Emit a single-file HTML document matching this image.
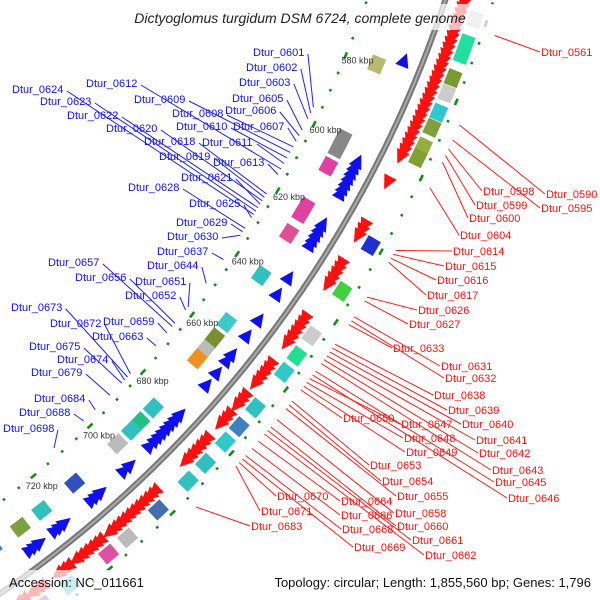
<!DOCTYPE html>
<html><head><meta charset="utf-8"><style>
body{margin:0;background:#fff;overflow:hidden;width:600px;height:600px}
svg{display:block}
text{font-family:"Liberation Sans","DejaVu Sans",sans-serif}
</style></head><body>
<svg id="chart" width="600" height="600" viewBox="0 0 600 600" xmlns="http://www.w3.org/2000/svg" style="overflow:hidden">
<g id="marks"></g>
<g id="labels"></g>
<rect x="0" y="4" width="600" height="26" fill="#fff" opacity="0.7"/>
<rect x="0" y="570" width="600" height="30" fill="#fff" opacity="0.7"/>
<text x="300" y="23" text-anchor="middle" font-size="14" font-style="italic" fill="#222">Dictyoglomus turgidum DSM 6724, complete genome</text>
<text x="9" y="587" font-size="13" fill="#111">Accession: NC_011661</text>
<text x="591" y="587" text-anchor="end" font-size="13" fill="#111">Topology: circular; Length: 1,855,560 bp; Genes: 1,796</text>
</svg>
<script>
const tickKbp=[580,600,620,640,660,680,700,720];
const redArrowKbp=[556,557.5,559,560.5,562,563.5,565,566.5,568,569.5,571,572.5,574,575.5,577,578.5,580,581.5,583,584.5,586,587.5,589,590.5,592,593.5,595,596.5,598,605,617,618.5,620,628,629.5,631,632.5,634,644,645.5,647,648.5,650,651.5,658,659.5,661,662.5,664,668,669.5,671,674,675.5,677,682,683.5,685,686.5,688,689.5,700,701.5,703,704.5,706,707.5,709,710.5,712,713.5,715,718,719.5,721,722.5,724,725.5,728,729.5,731,736,737.5,739,741.5,743];
const blueArrowKbp=[575,603,604.5,606,607.5,609,610.5,612,621,622.5,624,625.5,627,637,642,650,655,661,663,667,671,681,682.5,684,685.5,687,688.5,690,692,699,701,709,710.5,712,721,722.5,724,729,730.5,732];
const blueBoxKbp=[579,600,603,608,620,622,628,641,656,661,665,668,685,690,693,698,713,724,731,740];
const blueBoxCol=["#b8b870","#888","#888","#e040a0","#e040a0","#e040a0","#e05090","#30c0c0","#40c8c8","#7a9030","#bbb","#f09020","#30c0c0","#20c080","#30c0c0","#bbb","#3050c0","#30c0c0","#80a040","#4080c0"];
const redBoxKbp=[560,566,569,575,579,584,588,593,596,620,633,646,652,657,668,674,679,686,692,702,712,718,730,738];
const redBoxCol=["#ccc","#20e0a0","#20e0a0","#7a9a30","#ccc","#30c8d0","#80a040","#90b040","#80a030","#2030d0","#40d040","#ccc","#20e090","#30c8c8","#30c0c0","#4080c0","#30c8c8","#30c0c0","#30c0c0","#4070b0","#bbb","#e050a0","#50c0c0","#e040a0"];
const blueLabels=[["Dtur_0601",253,52],["Dtur_0602",246,67],["Dtur_0603",239,82],["Dtur_0605",232,98],["Dtur_0606",225,110],["Dtur_0607",233,126],["Dtur_0608",172,113],["Dtur_0609",134,99],["Dtur_0610",176,126],["Dtur_0611",202,142],["Dtur_0612",86,83],["Dtur_0613",213,162],["Dtur_0618",144,141],["Dtur_0619",159,156],["Dtur_0620",106,128],["Dtur_0621",181,177],["Dtur_0622",67,115],["Dtur_0623",40,101],["Dtur_0624",12,89],["Dtur_0625",189,203],["Dtur_0628",128,187],["Dtur_0629",176,222],["Dtur_0630",167,236],["Dtur_0637",157,251],["Dtur_0644",147,265],["Dtur_0651",135,281],["Dtur_0652",125,295],["Dtur_0656",75,277],["Dtur_0657",48,262],["Dtur_0659",103,321],["Dtur_0663",92,336],["Dtur_0672",50,323],["Dtur_0673",11,307],["Dtur_0674",57,359],["Dtur_0675",29,346],["Dtur_0679",31,372],["Dtur_0684",34,398],["Dtur_0688",19,412],["Dtur_0698",3,428]];
const redLabels=[["Dtur_0561",540,52],["Dtur_0590",545,194],["Dtur_0595",540,208],["Dtur_0598",482,191],["Dtur_0599",475,205],["Dtur_0600",468,218],["Dtur_0604",459,235],["Dtur_0614",452,251],["Dtur_0615",444,266],["Dtur_0616",436,280],["Dtur_0617",426,295],["Dtur_0626",417,310],["Dtur_0627",408,324],["Dtur_0633",392,348],["Dtur_0631",440,366],["Dtur_0632",444,378],["Dtur_0638",433,395],["Dtur_0639",447,410],["Dtur_0640",461,424],["Dtur_0641",475,440],["Dtur_0642",478,453],["Dtur_0643",491,470],["Dtur_0645",494,482],["Dtur_0646",507,498],["Dtur_0650",342,418],["Dtur_0647",400,424],["Dtur_0648",403,438],["Dtur_0649",405,452],["Dtur_0653",369,465],["Dtur_0654",381,481],["Dtur_0655",396,496],["Dtur_0658",394,513],["Dtur_0660",396,526],["Dtur_0661",411,540],["Dtur_0662",424,555],["Dtur_0664",340,501],["Dtur_0666",340,515],["Dtur_0668",341,529],["Dtur_0669",353,547],["Dtur_0670",276,496],["Dtur_0671",260,511],["Dtur_0683",250,526]];
const geneAnchorNum=[561,598,614,627,683,698];
const geneAnchorKbp=[562,591,618,632,695,711];

const CX=-660,CY=-365,NS="http://www.w3.org/2000/svg";
function ang(k){return (22.7+(k-580)*3.97/20)*Math.PI/180;}
function pt(k,r){const a=ang(k);return [CX+r*Math.cos(a),CY+r*Math.sin(a)];}
function geneKbp(n){for(let i=0;i<geneAnchorNum.length-1;i++){if(n<=geneAnchorNum[i+1]||i==geneAnchorNum.length-2){const t=(n-geneAnchorNum[i])/(geneAnchorNum[i+1]-geneAnchorNum[i]);return geneAnchorKbp[i]+t*(geneAnchorKbp[i+1]-geneAnchorKbp[i]);}}}
function mk(tag,attrs,parent){const e=document.createElementNS(NS,tag);for(const k in attrs)e.setAttribute(k,attrs[k]);parent.appendChild(e);return e;}
const M=document.getElementById('marks'),L=document.getElementById('labels');

const p0=pt(540,1164),p1=pt(760,1164);
const bd=`M${p0[0]},${p0[1]} A1164 1164 0 0 1 ${p1[0]},${p1[1]}`;
let bb=mk('path',{d:bd,fill:'none',stroke:'#777','stroke-width':6},M);


let bb2=mk('path',{d:bd,fill:'none',stroke:'#aaa','stroke-width':2},M);



for(let k=540;k<=760;k+=5){
  [1090,1210].forEach(r=>{
    const [x,y]=pt(k,r);const big=(k%20===0);
    const d=mk('rect',{x:x-(big?3.5:1.3),y:y-1.3,width:big?7:2.6,height:2.6,fill:'#1a8a1a',transform:`rotate(${ang(k)*180/Math.PI+90} ${x} ${y})`},M);
    
    
  });
}
tickKbp.forEach(k=>{
  const [x,y]=pt(k,1103);
  const t=mk('text',{x:x,y:y+3,'text-anchor':'middle','font-size':9,fill:'#333'},L);
  t.textContent=k+' kbp';
  
  
});
redArrowKbp.forEach(k=>{
  const p=mk('polygon',{},M);
  const a=ang(k)*180/Math.PI,[x,y]=pt(k,1182);
  p.setAttribute('points','8,-7 8,7 -6,0');
  p.setAttribute('fill','#ff1010');
  p.setAttribute('transform',`translate(${x} ${y}) rotate(${a-90})`);
  
  
});
blueArrowKbp.forEach(k=>{
  const p=mk('polygon',{},M);
  const a=ang(k)*180/Math.PI,[x,y]=pt(k,1146);
  p.setAttribute('points','-8,-7 -8,7 6,0');
  p.setAttribute('fill','#1010ee');
  p.setAttribute('transform',`translate(${x} ${y}) rotate(${a-90})`);
  
  
});
function box(k,r,c){
  const a=ang(k)*180/Math.PI,[x,y]=pt(k,r);
  return mk('rect',{x:-7,y:-8,width:14,height:16,fill:c,transform:`translate(${x} ${y}) rotate(${a})`},M);
}
blueBoxKbp.forEach((k,i)=>{const b=box(k,1122,blueBoxCol[i]);
  
  });
redBoxKbp.forEach((k,i)=>{const b=box(k,1198,redBoxCol[i]);
  
  });

function labelW(s){return s.length*6.1;}
blueLabels.forEach(([s,x,y])=>{
  const n=parseInt(s.slice(5),10);const [ex,ey]=pt(geneKbp(n),1082);
  const l=mk('line',{x1:x+labelW(s),y1:y+2,x2:ex,y2:ey,stroke:'#2020ff','stroke-width':1},L);
  
  
  const t=mk('text',{x:x,y:y+4,'font-size':11,fill:'#1010ff'},L);t.textContent=s;
  
  
});
redLabels.forEach(([s,x,y])=>{
  const n=parseInt(s.slice(5),10);const [ex,ey]=pt(geneKbp(n),1222);
  const l=mk('line',{x1:ex,y1:ey,x2:x,y2:y,stroke:'#ff2020','stroke-width':1},L);
  
  
  const t=mk('text',{x:x+1,y:y+4,'font-size':11,fill:'#ff1010'},L);t.textContent=s;
  
  
});
</script>
</body></html>
